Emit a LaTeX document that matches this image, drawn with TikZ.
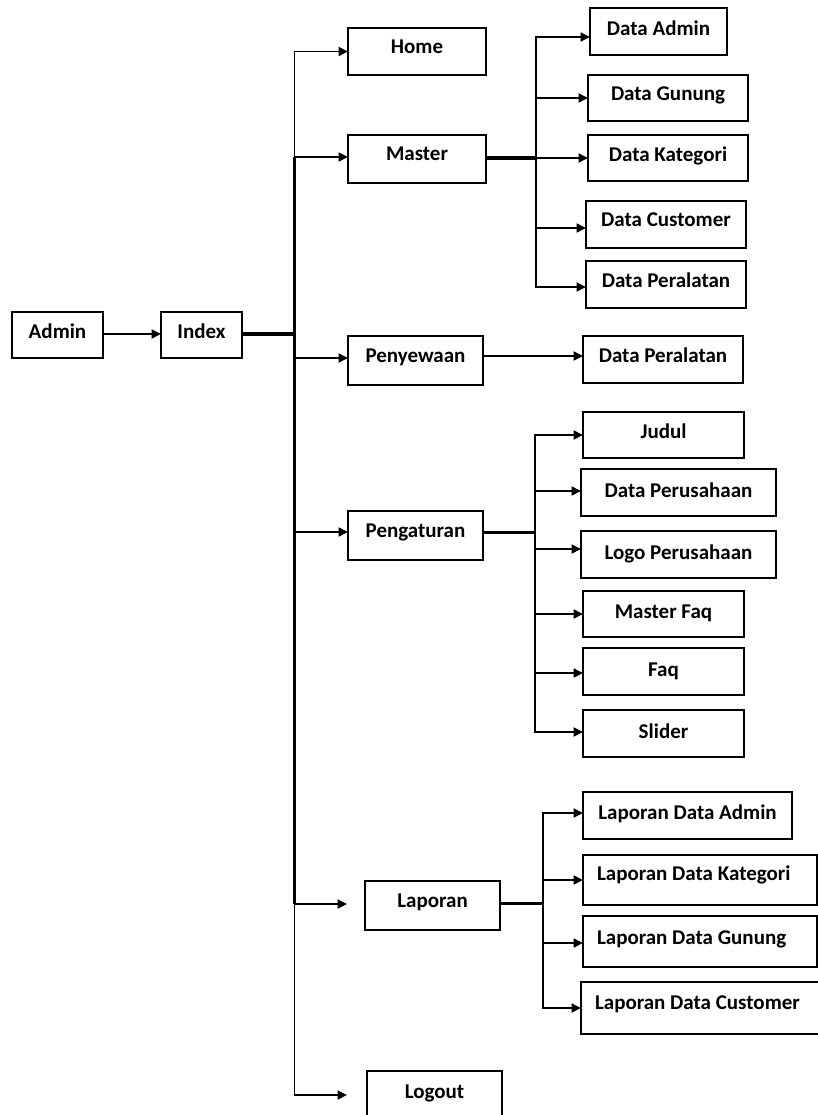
\documentclass[tikz,border=0pt]{standalone}
\usepackage{fontspec}
\setmainfont{Carlito}
\usetikzlibrary{arrows.meta,calc}

\tikzset{
  box/.style={draw, rectangle, line width=1.8pt, inner sep=0pt, outer sep=0pt},
  lbl/.style={font=\fontsize{21}{25}\selectfont\bfseries, inner sep=0pt, outer sep=0pt},
  busthick/.style={line width=2.7pt},
  arr/.style={line width=1.9pt, -{Triangle[length=9.5pt,width=9pt]}},
  stub/.style={line width=3.6pt},
  stubmid/.style={line width=3pt},
}

% box given by its corners (x1,y1)-(x2,y2); label baseline #1 below the top edge
\newcommand\bx[7][26]{%
  \node[box, anchor=north west, minimum width={(#5-#3)*1pt}, minimum height={(#6-#4)*1pt}] (#2) at (#3,#4) {};
  \node[lbl, anchor=base] (#2-t) at ([yshift=-#1pt]#2.north) {#7};
}
% same, with the label set flush left
\newcommand\bxl[7][26]{%
  \node[box, anchor=north west, minimum width={(#5-#3)*1pt}, minimum height={(#6-#4)*1pt}] (#2) at (#3,#4) {};
  \node[lbl, anchor=base west] (#2-t) at ([xshift=14pt,yshift=-#1pt]#2.north west) {#7};
}

\begin{document}
\begin{tikzpicture}[x=1pt, y=-1pt]
\useasboundingbox (0,0) rectangle (818,1115);
\fill[white] (0,0) rectangle (818,1115);
\clip (0,0) rectangle (818,1115);

% main chain
\bx{admin}{12}{312}{103}{358}{Admin}
\bx{index}{161}{312}{242}{358}{Index}

% menu level
\bx{home}{348}{28}{486}{75}{Home}
\bx{master}{348}{135}{486}{183}{Master}
\bx{peny}{348}{336}{483}{385}{Penyewaan}
\bx{peng}{348}{511}{483}{560}{Pengaturan}
\bx{lap}{365}{881}{500}{930}{Laporan}
\bx[27]{logout}{367}{1071}{502}{1120}{Logout}

% master data
\bx[28]{dadm}{590}{8}{727}{55}{Data Admin}
\bx{dgun}{588}{75}{748}{121}{Data Gunung}
\bx[27]{dkat}{588}{135}{748}{181}{Data Kategori}
\bx{dcus}{586}{201}{746}{248}{Data Customer}
\bx{dper}{586}{261}{746}{308}{Data Peralatan}
\bx{dper2}{583}{336}{743}{383}{Data Peralatan}

% settings
\bx{judul}{583}{412}{744}{458}{Judul}
\bx[28]{dpers}{581}{469}{776}{516}{Data Perusahaan}
\bx[28]{logo}{581}{531}{776}{578}{Logo Perusahaan}
\bx[27]{mfaq}{583}{591}{744}{637}{Master Faq}
\bx[28]{faq}{583}{648}{744}{695}{Faq}
\bx[28]{slider}{583}{710}{744}{757}{Slider}

% reports
\bx[27]{lda}{583}{792}{792}{839}{Laporan Data Admin}
\bxl[25]{ldk}{583}{855}{817}{905}{Laporan Data Kategori}
\bxl[28]{ldg}{583}{916}{817}{967}{Laporan Data Gunung}
\bxl[27]{ldc}{581}{982}{835}{1034}{Laporan Data Customer}

% junctions and arrow entry points
\coordinate (j0) at (294.5,334);
\coordinate (jm) at (536,158);
\coordinate (jp) at (535,532);
\coordinate (jl) at (543,903);
\coordinate (lap-in) at (347,904);
\coordinate (logout-in) at (347,1095);

\coordinate (master-in) at ([yshift=2pt]master.west);
\coordinate (peny-in) at ([yshift=2.5pt]peny.west);
\coordinate (peng-in) at ([yshift=3.5pt]peng.west);

\coordinate (dadm-in) at ([yshift=-5.5pt]dadm.west);
\coordinate (dcus-in) at ([yshift=-3.5pt]dcus.west);
\coordinate (dper-in) at ([yshift=-2.5pt]dper.west);

\coordinate (dpers-in) at ([yshift=1.5pt]dpers.west);
\coordinate (logo-in) at ([yshift=5.5pt]logo.west);
\coordinate (faq-in) at ([yshift=-1.5pt]faq.west);
\coordinate (slider-in) at ([yshift=1.5pt]slider.west);

\coordinate (lda-in) at ([yshift=2.5pt]lda.west);
\coordinate (ldg-in) at ([yshift=-1.5pt]ldg.west);

% Admin -> Index -> menu bus
\draw[arr] (admin.east |- j0) -- (index.west |- j0);
\draw[stub] (index.east |- j0) -- (j0);
\draw[busthick] (j0 |- master-in) -- (j0 |- lap-in);
\draw[arr] (j0) |- (home.west);
\draw[arr] (j0) |- (master-in);
\draw[arr] (j0) |- (peny-in);
\draw[arr] (j0) |- (peng-in);
\draw[arr] (j0) |- (lap-in);
\draw[arr] (j0) |- (logout-in);

% Master -> data pages
\draw[stub] (master.east |- jm) -- (jm);
\draw[busthick] (jm |- dgun.west) -- (jm |- dcus-in);
\draw[arr] (jm) |- (dadm-in);
\draw[arr] (jm) |- (dgun.west);
\draw[arr] (jm) |- (dkat.west);
\draw[arr] (jm) |- (dcus-in);
\draw[arr] (jm) |- (dper-in);

% Penyewaan -> Data Peralatan
\draw[arr] ([yshift=4.5pt]peny.east) -- ([yshift=3.5pt]dper2.west);

% Pengaturan -> settings pages
\draw[stubmid] (peng.east |- jp) -- (jp);
\draw[busthick] (jp |- dpers-in) -- (jp |- faq-in);
\draw[arr] (jp) |- (judul.west);
\draw[arr] (jp) |- (dpers-in);
\draw[arr] (jp) |- (logo-in);
\draw[arr] (jp) |- (mfaq.west);
\draw[arr] (jp) |- (faq-in);
\draw[arr] (jp) |- (slider-in);

% Laporan -> reports
\draw[stubmid] (lap.east |- jl) -- (jl);
\draw[arr] (jl) |- (lda-in);
\draw[arr] (jl) |- (ldk.west);
\draw[arr] (jl) |- (ldg-in);
\draw[arr] (jl) |- (ldc.west);
\end{tikzpicture}
\end{document}
